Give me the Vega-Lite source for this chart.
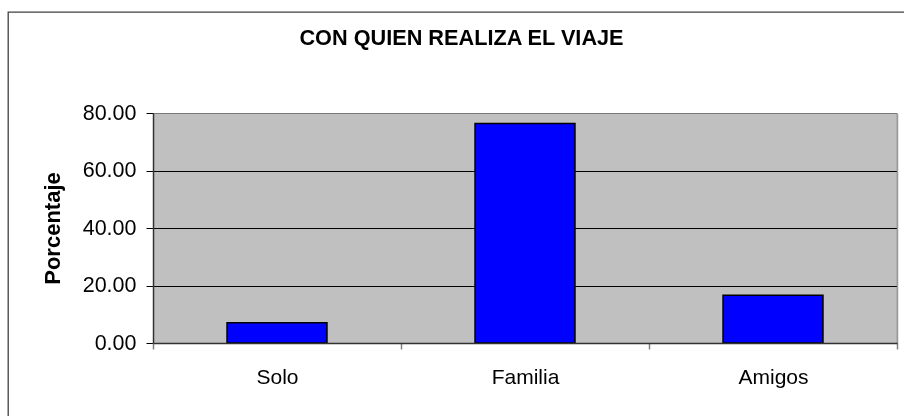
{
  "$schema": "https://vega.github.io/schema/vega-lite/v6.json",
  "width": 900,
  "height": 410,
  "autosize": "none",
  "padding": {"left": 8, "top": 12, "right": 0, "bottom": 0},
  "background": "white",
  "title": {
    "text": "CON QUIEN REALIZA EL VIAJE",
    "font": "Liberation Sans",
    "fontSize": 21.7,
    "fontWeight": "bold",
    "color": "black",
    "anchor": "middle",
    "frame": "group",
    "baseline": "alphabetic",
    "offset": 0,
    "dy": 55,
    "dx": 3.5
  },
  "data": {
    "values": [
      {"categoria": "Solo", "porcentaje": 7.05},
      {"categoria": "Familia", "porcentaje": 76.35},
      {"categoria": "Amigos", "porcentaje": 16.6}
    ]
  },
  "encoding": {
    "x": {
      "field": "categoria",
      "type": "nominal",
      "sort": null,
      "scale": {"range": [145, 889], "paddingInner": 0, "paddingOuter": 0},
      "axis": {
        "title": null,
        "tickBand": "extent",
        "labelFont": "Liberation Sans",
        "labelFontSize": 21,
        "labelColor": "black",
        "labelAngle": 0,
        "labelBaseline": "alphabetic",
        "labelPadding": 34,
        "tickSize": 6,
        "tickColor": "#808080",
        "tickWidth": 1.5,
        "domainColor": "#333333",
        "domainWidth": 1.5,
        "offset": -79
      }
    }
  },
  "layer": [
    {
      "mark": {"type": "rect", "color": "#c0c0c0", "blend": "multiply"},
      "encoding": {
        "y": {
          "datum": 80,
          "type": "quantitative",
          "scale": {"domain": [0, 80], "range": [331, 101], "nice": false},
          "axis": {
            "orient": "right",
            "offset": -11,
            "title": null,
            "labels": false,
            "ticks": false,
            "grid": false,
            "domainColor": "#999999",
            "domainWidth": 1.5
          }
        },
        "y2": {"datum": 0}
      }
    },
    {
      "mark": {"type": "bar", "color": "#0000ff", "stroke": "black", "strokeWidth": 1.5, "width": {"band": 0.403}},
      "encoding": {
        "y": {
          "field": "porcentaje",
          "type": "quantitative",
          "scale": {"domain": [0, 80], "range": [331, 101], "nice": false},
          "axis": {
            "orient": "left",
            "title": "Porcentaje",
            "titleFont": "Liberation Sans",
            "titleFontSize": 22,
            "titleFontWeight": "bold",
            "titleColor": "black",
            "titlePadding": 18,
            "values": [0, 20, 40, 60, 80],
            "format": ".2f",
            "labelFont": "Liberation Sans",
            "labelFontSize": 21.5,
            "labelColor": "black",
            "labelPadding": 10,
            "tickSize": 7,
            "tickColor": "black",
            "tickWidth": 1,
            "domainColor": "#404040",
            "domainWidth": 1.5,
            "grid": true,
            "gridColor": {"condition": {"test": "datum.value === 80", "value": "#a0a0a0"}, "value": "black"},
            "gridWidth": 1,
            "offset": -145
          }
        }
      }
    }
  ],
  "resolve": {"axis": {"y": "independent"}},
  "config": {
    "view": {"stroke": "#404040", "strokeWidth": 1.3, "fill": "white"}
  }
}
